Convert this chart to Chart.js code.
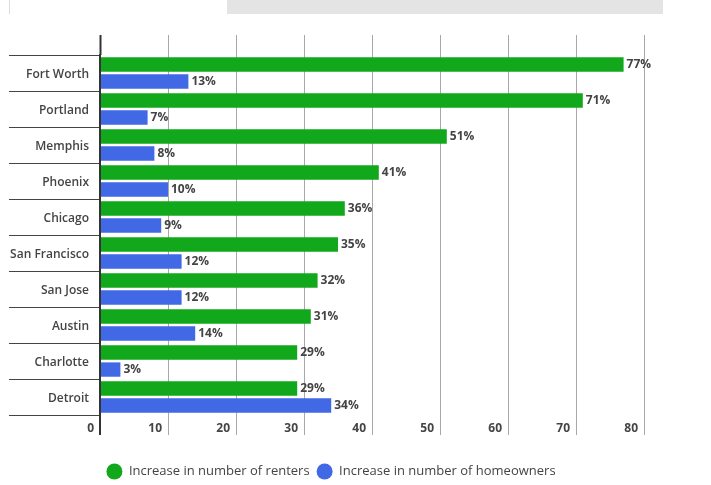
<!DOCTYPE html>
<html>
<head>
<meta charset="utf-8">
<script src="https://cdn.jsdelivr.net/npm/chart.js@4"></script>
<style>
  html, body { margin: 0; padding: 0; background: #fff; }
  #wrap { position: relative; width: 711px; height: 485px; overflow: hidden; }
  #tabL { position: absolute; left: 9px; top: 0; width: 217px; height: 14px; border-left: 1px solid #ddd; background: #fff; }
  #tabR { position: absolute; left: 227px; top: 0; width: 436px; height: 14px; background: #e4e4e4; }
  canvas { position: absolute; left: 0; top: 0; }
</style>
</head>
<body>
<div id="wrap">
  <div id="tabL"></div>
  <div id="tabR"></div>
  <canvas id="c" width="711" height="485"></canvas>
</div>
<script>
const categories = ['Fort Worth','Portland','Memphis','Phoenix','Chicago','San Francisco','San Jose','Austin','Charlotte','Detroit'];
const renters = [77, 71, 51, 41, 36, 35, 32, 31, 29, 29];
const homeowners = [13, 7, 8, 10, 9, 12, 12, 14, 3, 34];
const seriesNames = ['Increase in number of renters', 'Increase in number of homeowners'];
const xMin = 0, xMax = 80, xStep = 10;

const FONT = "'Open Sans', 'DejaVu Sans', sans-serif";
const TXT = '#444';

const gridColor = (c) => (c.tick && c.tick.value === 0) ? '#333' : '#a8a8a8';
const gridWidth = (c) => (c.tick && c.tick.value === 0) ? 2 : 1;

const valueLabels = {
  id: 'valueLabels',
  afterDatasetsDraw(chart) {
    const ctx = chart.ctx;
    ctx.save();
    ctx.font = "bold 12px " + FONT;
    ctx.fillStyle = TXT;
    ctx.textAlign = 'left';
    ctx.textBaseline = 'middle';
    chart.data.datasets.forEach((ds, di) => {
      const meta = chart.getDatasetMeta(di);
      meta.data.forEach((el, i) => {
        ctx.fillText(ds.data[i] + '%', el.x + 3, el.y);
      });
    });
    ctx.restore();
  }
};

// extends the vertical grid lines below the plot, beside the tick labels
const gridExtend = {
  id: 'gridExtend',
  afterDraw(chart) {
    const sc = chart.scales.x;
    const ctx = chart.ctx;
    const b = chart.chartArea.bottom;
    ctx.save();
    sc.ticks.forEach((t) => {
      const px = Math.round(sc.getPixelForValue(t.value)) + 0.5;
      const zero = t.value === 0;
      ctx.strokeStyle = zero ? '#333' : '#a8a8a8';
      ctx.lineWidth = zero ? 2 : 1;
      ctx.beginPath();
      ctx.moveTo(zero ? px - 0.5 : px, b);
      ctx.lineTo(zero ? px - 0.5 : px, b + 20);
      ctx.stroke();
    });
    ctx.restore();
  }
};

// nudges the legend box to the right, as in the original layout
const legendShift = {
  id: 'legendShift',
  afterLayout(chart) {
    if (chart.legend) { chart.legend.left += 9; chart.legend.right += 9; }
  }
};

new Chart(document.getElementById('c'), {
  type: 'bar',
  data: {
    labels: categories,
    datasets: [
      { label: seriesNames[0], data: renters, backgroundColor: '#12a81b', pointStyle: 'circle',
        categoryPercentage: 0.95, barPercentage: 0.84 },
      { label: seriesNames[1], data: homeowners, backgroundColor: '#4169e6', pointStyle: 'circle',
        categoryPercentage: 0.95, barPercentage: 0.84 }
    ]
  },
  options: {
    indexAxis: 'y',
    responsive: false,
    animation: false,
    devicePixelRatio: 1,
    layout: { padding: { left: 0, right: 67, top: 35, bottom: -3 } },
    scales: {
      x: {
        type: 'linear',
        position: 'bottom',
        min: xMin, max: xMax,
        grid: { color: gridColor, lineWidth: gridWidth, drawTicks: false },
        border: { display: false },
        ticks: { stepSize: xStep, align: 'end', labelOffset: -6, padding: 6,
                 color: TXT, font: { family: FONT, size: 12, weight: 'bold' } },
        afterFit(scale) { scale.height = 43; }
      },
      x2: {
        type: 'linear',
        position: 'top',
        min: xMin, max: xMax,
        grid: { drawOnChartArea: false, drawTicks: true, tickLength: 20, tickColor: gridColor, tickWidth: gridWidth, color: gridColor },
        border: { display: false },
        ticks: { stepSize: xStep, display: false }
      },
      y: {
        type: 'category',
        position: 'left',
        grid: { drawOnChartArea: false, drawTicks: true, tickLength: 91, offset: true, color: '#444', tickColor: '#444', lineWidth: 1 },
        border: { display: true, color: '#333', width: 2 },
        ticks: { padding: -80, labelOffset: 2, color: TXT, font: { family: FONT, size: 12, weight: '600' } },
        afterFit(scale) { scale.width = 100; }
      }
    },
    plugins: {
      legend: {
        position: 'bottom',
        labels: {
          usePointStyle: true, pointStyle: 'circle',
          pointStyleWidth: 16, boxHeight: 11.3, padding: 7,
          color: TXT, font: { family: FONT, size: 13 }
        }
      },
      tooltip: { enabled: false }
    }
  },
  plugins: [valueLabels, gridExtend, legendShift]
});
</script>
</body>
</html>
